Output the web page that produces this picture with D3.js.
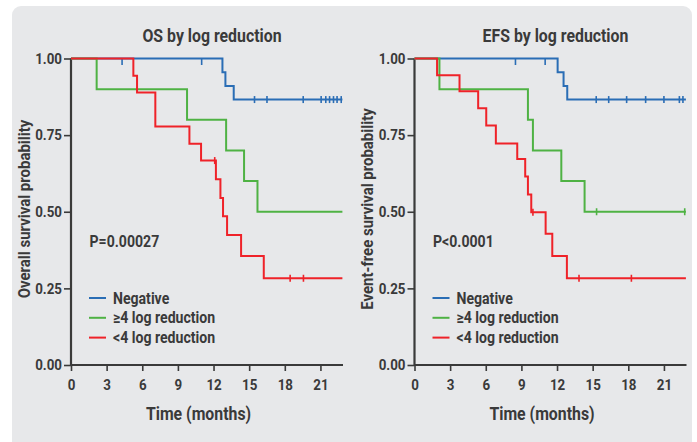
<!DOCTYPE html>
<html>
<head>
<meta charset="utf-8">
<script src="https://cdn.jsdelivr.net/npm/d3@7"></script>
<style>
  body { margin: 0; background: #fff; }
  text { font-family: Roboto, "Liberation Sans", sans-serif; font-weight: bold; fill: #3a3a3a; }
</style>
</head>
<body>
<div id="chart"></div>
<script>
// Serie podatkov (Kaplan-Meier), odčitano s slike
const groups = ["Negative", "≥4 log reduction", "<4 log reduction"];
const groupColors = ["#2a6db5", "#4fb244", "#ef2229"];
const xTicks = [0, 3, 6, 9, 12, 15, 18, 21];
const yTicks = [0, 0.25, 0.5, 0.75, 1];

// OS
const osNegTimes = [0, 12.75, 13.0, 13.7];
const osNegSurv = [1, 0.955, 0.91, 0.866];
const osNegCensor = [4.3, 11.0, 15.45, 16.5, 19.55, 21.06, 21.45, 21.77, 22.1, 22.4, 22.75];
const osPosTimes = [0, 2.16, 9.77, 13.06, 14.57, 15.7];
const osPosSurv = [1, 0.9, 0.8, 0.7, 0.6, 0.5];
const osPosCensor = [];
const osRedTimes = [0, 5.25, 5.56, 7.1, 9.97, 10.95, 12.2, 12.58, 12.8, 13.14, 14.32, 16.23];
const osRedSurv = [1, 0.944, 0.889, 0.778, 0.722, 0.667, 0.606, 0.545, 0.485, 0.424, 0.356, 0.283];
const osRedCensor = [12.1, 18.45, 19.57];

// EFS
const efsNegTimes = [0, 12.05, 12.55, 12.86];
const efsNegSurv = [1, 0.955, 0.91, 0.866];
const efsNegCensor = [8.5, 11.0, 15.3, 16.35, 17.86, 19.46, 21.0, 22.3, 22.6];
const efsPosTimes = [0, 2.1, 9.55, 9.97, 12.36, 14.32];
const efsPosSurv = [1, 0.9, 0.8, 0.7, 0.6, 0.5];
const efsPosCensor = [15.33, 22.75];
const efsRedTimes = [0, 1.9, 3.79, 5.36, 6.04, 6.85, 8.65, 9.32, 9.55, 9.83, 11.04, 11.6, 12.83];
const efsRedSurv = [1, 0.945, 0.893, 0.838, 0.781, 0.723, 0.672, 0.615, 0.556, 0.498, 0.428, 0.356, 0.283];
const efsRedCensor = [9.97, 13.85, 18.26];

const endTime = 22.85;

const width = 697;
const height = 442;

const svg = d3.select("#chart")
    .append("svg")
    .attr("width", width)
    .attr("height", height);

// sivo ozadje
svg.append("rect")
    .attr("x", 12).attr("y", 6)
    .attr("width", 680).attr("height", 460)
    .attr("rx", 9)
    .attr("fill", "#e7e8ea");

// stisni besedilo (pisava je ožja kot Roboto)
function condense(sel, f) {
    sel.each(function () {
        const w = this.getComputedTextLength();
        d3.select(this).attr("textLength", w * f).attr("lengthAdjust", "spacingAndGlyphs");
    });
}

function survAt(times, surv, t) {
    let s = surv[0];
    for (let i = 0; i < times.length; i++) if (times[i] <= t) s = surv[i];
    return s;
}

function drawPanel(left, title, yLabel, pText, series) {
    const x = d3.scaleLinear().domain([0, 22.9]).range([left, left + 272]);
    const y = d3.scaleLinear().domain([0, 1]).range([365, 58.5]);
    const g = svg.append("g");

    // os x
    const xAxis = g.append("g")
        .attr("transform", "translate(0,365)")
        .call(d3.axisBottom(x).tickValues(xTicks).tickSize(6).tickPadding(9).tickFormat(d3.format("d")));
    // os y
    const yAxis = g.append("g")
        .attr("transform", `translate(${left},0)`)
        .call(d3.axisLeft(y).tickValues(yTicks).tickSize(7).tickPadding(2).tickFormat(d3.format(".2f")));

    [xAxis, yAxis].forEach(a => {
        a.select(".domain").attr("stroke", "#3a3a3a").attr("stroke-width", 2.2);
        a.selectAll(".tick line").attr("stroke", "#3a3a3a").attr("stroke-width", 1.6);
        a.selectAll("text").attr("fill", "#3a3a3a").style("font-size", "14.5px")
            .style("font-family", "Roboto").style("font-weight", "bold")
            .call(condense, 0.92);
    });
    // odstrani krajišča domene
    xAxis.select(".domain").attr("d", `M${left},0H${left + 272}`);
    yAxis.select(".domain").attr("d", `M0,${y(1)}V366`);

    // krivulje
    const line = d3.line().x(d => x(d[0])).y(d => y(d[1])).curve(d3.curveStepAfter);
    series.forEach((s, i) => {
        const pts = s.times.map((t, j) => [t, s.surv[j]]);
        pts.push([endTime, s.surv[s.surv.length - 1]]);
        g.append("path")
            .attr("d", line(pts))
            .attr("fill", "none")
            .attr("stroke", groupColors[i])
            .attr("stroke-width", 2);
        g.selectAll(null)
            .data(s.censor)
            .enter()
            .append("line")
            .attr("x1", d => x(d)).attr("x2", d => x(d))
            .attr("y1", d => survAt(s.times, s.surv, d) >= 1 ? y(1) : y(survAt(s.times, s.surv, d)) - 3.5)
            .attr("y2", d => survAt(s.times, s.surv, d) >= 1 ? y(1) + 6.5 : y(survAt(s.times, s.surv, d)) + 3.5)
            .attr("stroke", groupColors[i])
            .attr("stroke-width", 1.6);
    });

    // naslov
    g.append("text")
        .attr("x", left + 141).attr("y", 42)
        .attr("text-anchor", "middle")
        .style("font-size", "18px")
        .text(title)
        .call(condense, 0.88);

    // naslov osi x
    g.append("text")
        .attr("x", left + 127.5).attr("y", 420)
        .attr("text-anchor", "middle")
        .style("font-size", "18px")
        .text("Time (months)")
        .call(condense, 0.88);

    // naslov osi y
    g.append("text")
        .attr("transform", `translate(${left - 47},209) rotate(-90)`)
        .attr("dy", "0.35em")
        .attr("text-anchor", "middle")
        .style("font-size", "17px")
        .text(yLabel)
        .call(condense, 0.88);

    // p-vrednost
    g.append("text")
        .attr("x", left + 18.5).attr("y", 247)
        .style("font-size", "16px")
        .text(pText)
        .call(condense, 0.88);

    // legenda
    const leg = g.append("g");
    groups.forEach((name, i) => {
        const ly = 298 + i * 19.8;
        leg.append("line")
            .attr("x1", left + 18).attr("x2", left + 35)
            .attr("y1", ly).attr("y2", ly)
            .attr("stroke", groupColors[i])
            .attr("stroke-width", 2);
        leg.append("text")
            .attr("x", left + 42).attr("y", ly)
            .attr("dy", "0.35em")
            .style("font-size", "16px")
            .text(name)
            .call(condense, 0.88);
    });
}

drawPanel(71, "OS by log reduction", "Overall survival probability", "P=0.00027", [
    { times: osNegTimes, surv: osNegSurv, censor: osNegCensor },
    { times: osPosTimes, surv: osPosSurv, censor: osPosCensor },
    { times: osRedTimes, surv: osRedSurv, censor: osRedCensor }
]);

drawPanel(414.5, "EFS by log reduction", "Event-free survival probability", "P<0.0001", [
    { times: efsNegTimes, surv: efsNegSurv, censor: efsNegCensor },
    { times: efsPosTimes, surv: efsPosSurv, censor: efsPosCensor },
    { times: efsRedTimes, surv: efsRedSurv, censor: efsRedCensor }
]);
</script>
</body>
</html>
